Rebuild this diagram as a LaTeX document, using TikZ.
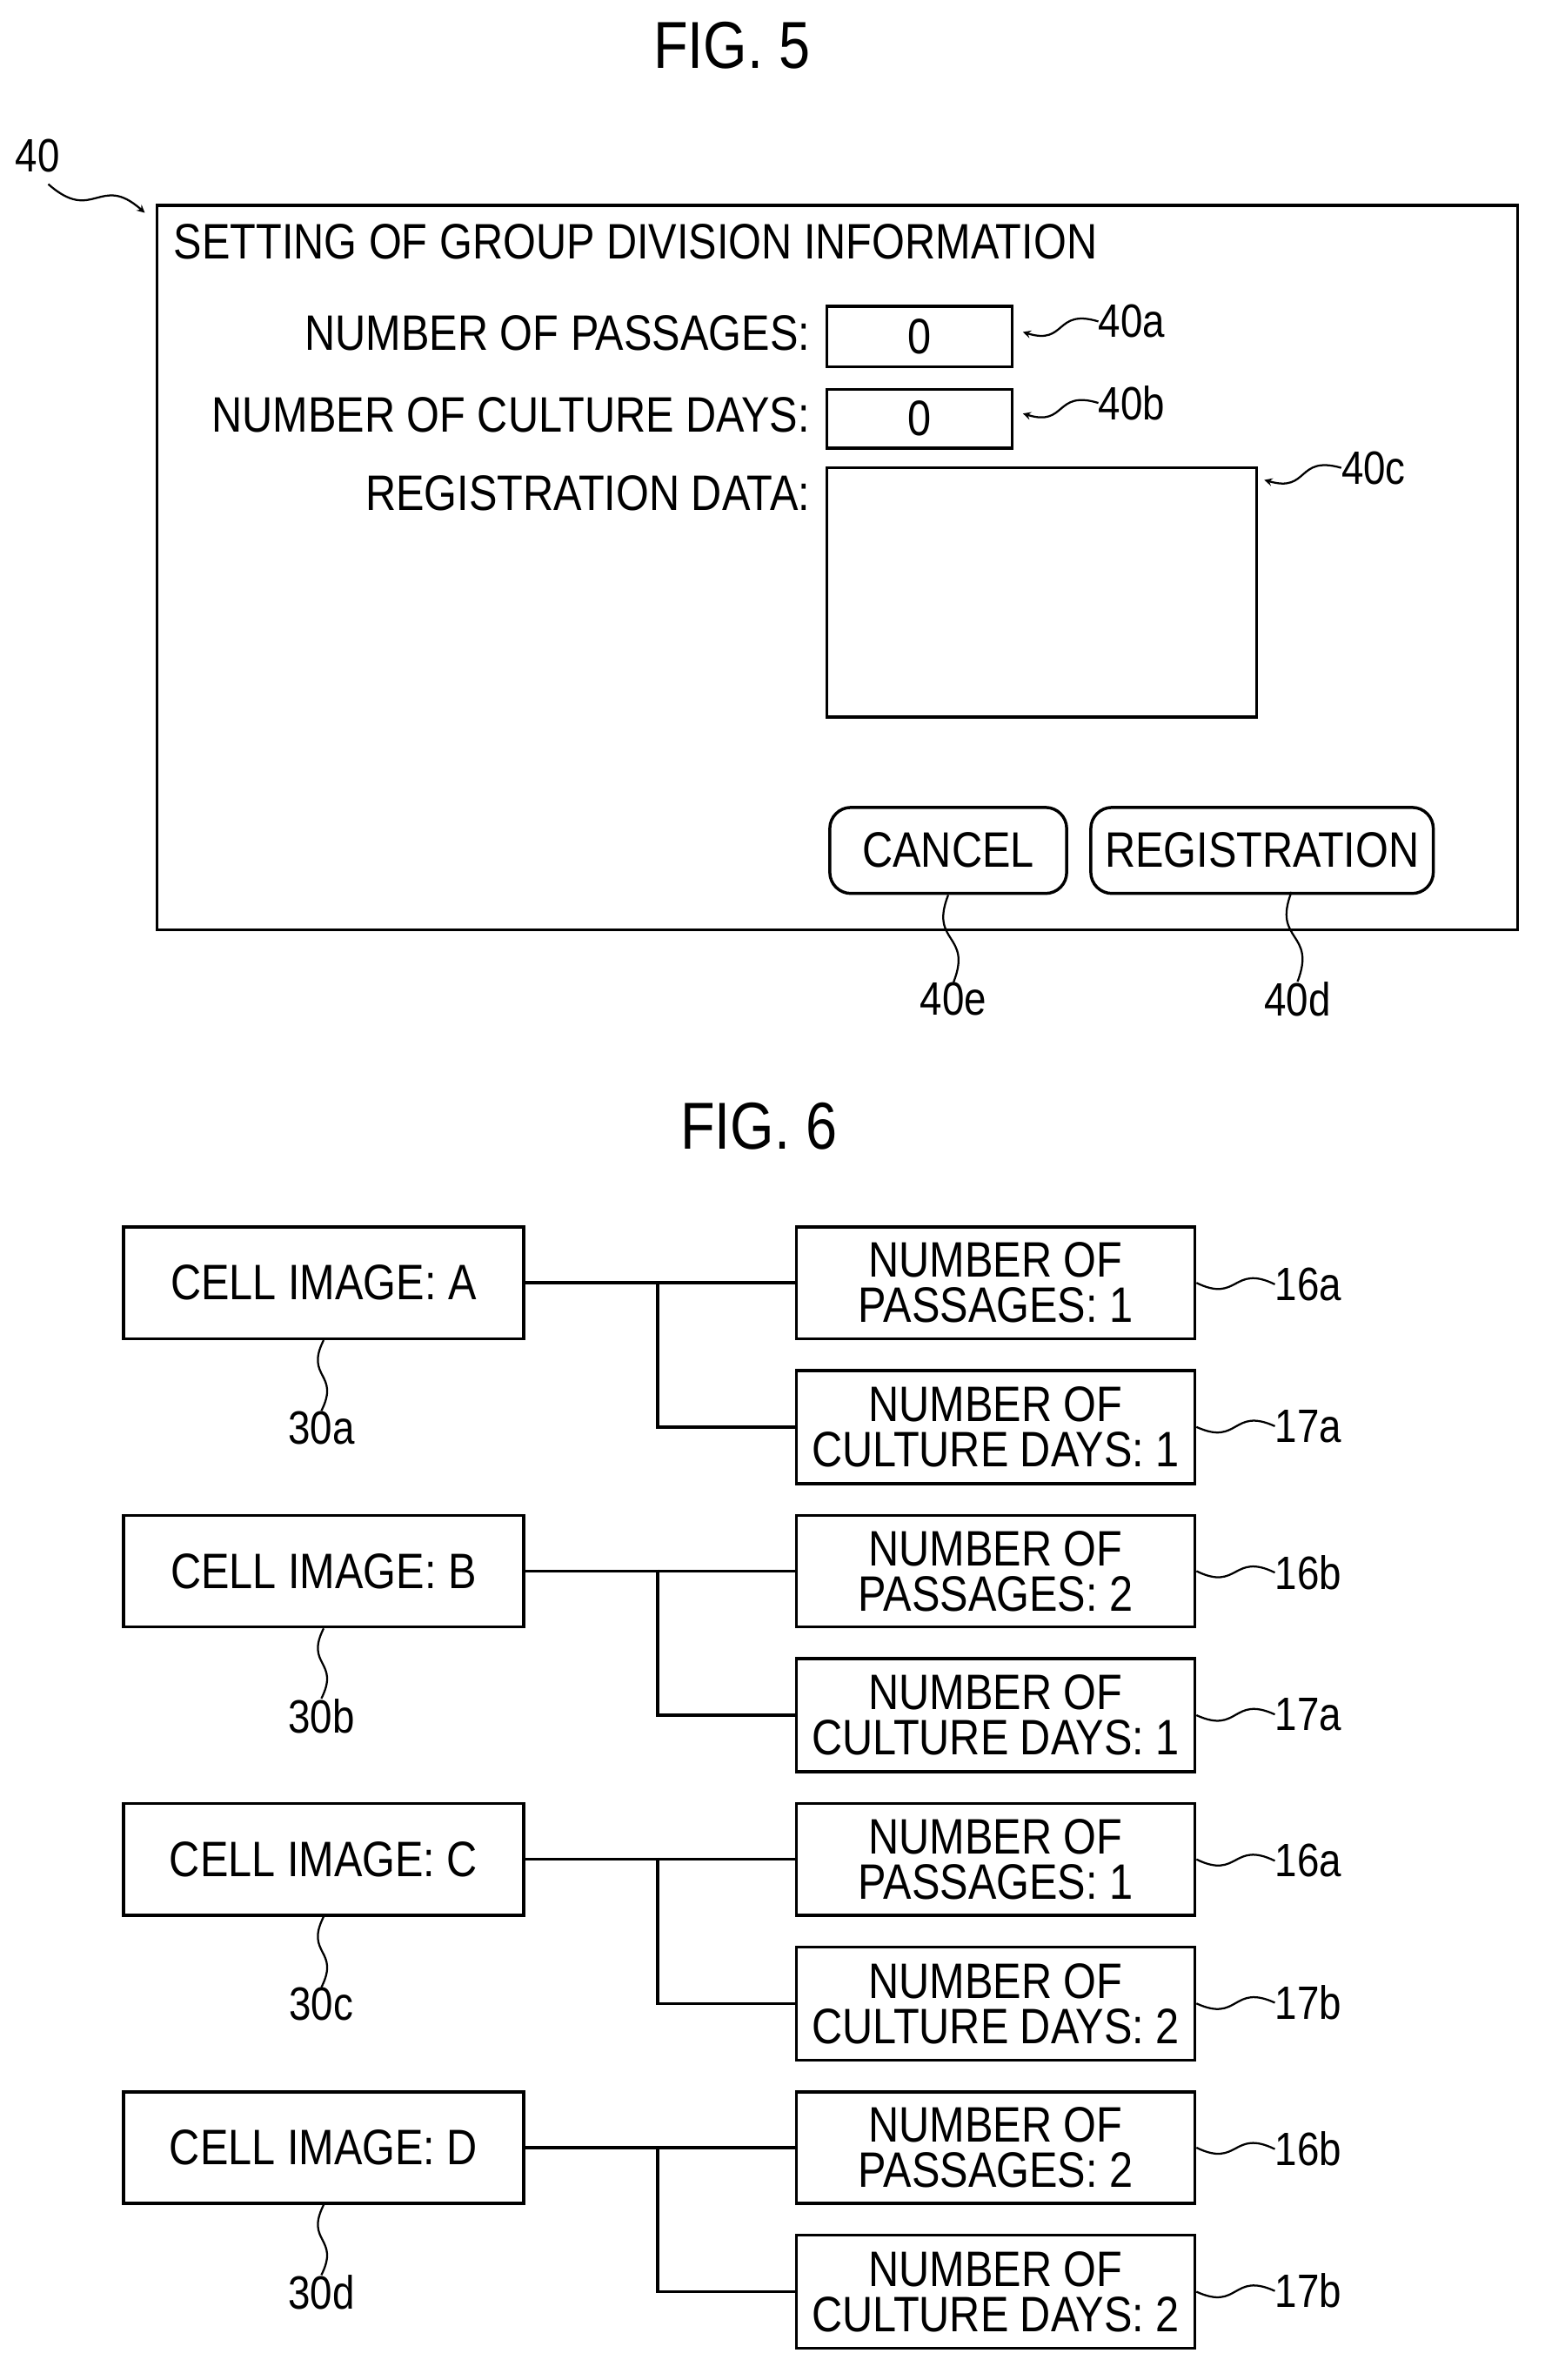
\documentclass[tikz,border=0pt]{standalone}
\usepackage{fontspec}
\setmainfont{Liberation Sans}[FakeStretch=0.85]
\usetikzlibrary{calc}
\begin{document}
\begin{tikzpicture}[x=1pt,y=-1pt,
  txt/.style={font=\fontsize{33}{33}\selectfont,inner sep=0pt},
  lbl/.style={font=\fontsize{31}{31}\selectfont,inner sep=0pt},
  box/.style={draw,line width=2pt,inner sep=0pt},
  ln/.style={line width=2pt},
  sq/.style={line width=1.3pt},
  two/.style={font=\fontsize{33}{30}\selectfont,align=center,inner sep=0pt}]
\useasboundingbox (0,0) rectangle (1024,1577);
\newcommand\sqg[3][]{\draw[sq,#1] (#2) .. controls ($(#2)!0.6!-25:(#3)$) and ($(#3)!0.6!-25:(#2)$) .. (#3);}
% FIG 5
\node[font=\fontsize{44}{44}\selectfont] (f5) at (485,30) {FIG. 5};
\node[box,minimum width=902,minimum height=480,anchor=north west] (win) at (103,135) {};
\node[lbl] (l40) at (25,103) {40};
\coordinate (a40s) at (32,122); \coordinate (a40e) at (96,141);
\sqg[-stealth]{a40s}{a40e}
\node[txt,anchor=west] (title) at (115,160) {SETTING OF GROUP DIVISION INFORMATION};
\node[txt,anchor=east] (t1) at (537,221) {NUMBER OF PASSAGES:};
\node[txt,anchor=east] (t2) at (537,275) {NUMBER OF CULTURE DAYS:};
\node[txt,anchor=east] (t3) at (537,327) {REGISTRATION DATA:};
\node[box,minimum width=123,minimum height=40,anchor=north west,txt] (b1) at (547,202) {0};
\node[box,minimum width=123,minimum height=39,anchor=north west,txt] (b2) at (547,257) {0};
\node[box,minimum width=285,minimum height=165,anchor=north west] (b3) at (547,309) {};
\node[lbl,anchor=west] (l40a) at (728,213) {40a};
\node[lbl,anchor=west] (l40b) at (728,267) {40b};
\node[lbl,anchor=west] (l40c) at (889,310) {40c};
\sqg[-stealth]{l40a.west}{678,220}
\sqg[-stealth]{l40b.west}{678,274}
\sqg[-stealth]{l40c.west}{838,318}
\node[box,rounded corners=14pt,minimum width=157,minimum height=57,anchor=north west,txt] (cancel) at (549,534) {CANCEL};
\node[box,rounded corners=14pt,minimum width=227,minimum height=57,anchor=north west,txt] (reg) at (722,534) {REGISTRATION};
\node[lbl] (l40e) at (632,662) {40e};
\node[lbl] (l40d) at (860,662) {40d};
\sqg{cancel.south}{l40e.north}
\sqg{856,591}{l40d.north}
% FIG 6
\node[font=\fontsize{44}{44}\selectfont] (f6) at (503,746) {FIG. 6};
\foreach \L/\o/\p/\pv/\c/\cv/\la/\lb/\n in {A/0/1/1/1/1/16a/17a/a, B/191/2/2/1/1/16b/17a/b, C/382/1/1/2/2/16a/17b/c, D/573/2/2/2/2/16b/17b/d}{
  \node[box,minimum width=265,minimum height=74,anchor=north west,txt] (cell\n) at (81,812+\o) {CELL IMAGE: \L};
  \node[box,minimum width=264,minimum height=74,anchor=north west,two] (pas\n) at (527,812+\o) {NUMBER OF\\PASSAGES: \pv};
  \node[box,minimum width=264,minimum height=75,anchor=north west,two] (cul\n) at (527,907+\o) {NUMBER OF\\CULTURE DAYS: \cv};
  \coordinate (j\n) at (436,849+\o);
  \draw[ln] (cell\n.east) -- (pas\n.west);
  \draw[ln] (j\n) |- (cul\n.west);
  \node[lbl,anchor=west] (la\n) at (845,851+\o) {\la};
  \node[lbl,anchor=west] (lb\n) at (845,945+\o) {\lb};
  \sqg{pas\n.east}{la\n.west}
  \sqg{cul\n.east}{lb\n.west}
  \node[lbl] (lc\n) at (213,946+\o) {30\n};
  \sqg{cell\n.south}{lc\n.north}
}
\end{tikzpicture}
\end{document}
